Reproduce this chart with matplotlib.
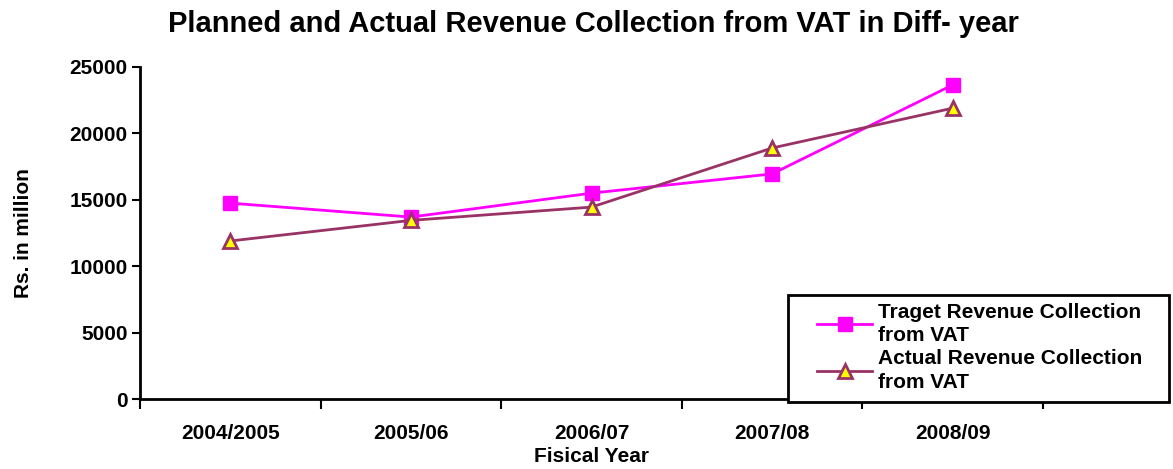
import numpy as np
import matplotlib.pyplot as plt
from matplotlib.ticker import FixedLocator
from matplotlib.patches import Rectangle

plt.rcParams['font.family'] = ['Liberation Sans', 'DejaVu Sans']
plt.rcParams['font.weight'] = 'bold'

years = ["2004/2005", "2005/06", "2006/07", "2007/08", "2008/09"]
target = [14750, 13700, 15500, 16950, 23650]
actual = [11900, 13450, 14450, 18900, 21900]

W, H = 1173, 469
fig = plt.figure(figsize=(W / 100, H / 100), dpi=100)
ax = fig.add_axes([140 / W, 70 / H, 903 / W, 332 / H])

x = np.arange(len(years))
ax.plot(x, target, color="#FF00FF", lw=2, marker="s", ms=10,
        mfc="#FF00FF", mec="#FF00FF",
        label="Traget Revenue Collection\nfrom VAT")
ax.plot(x, actual, color="#993366", lw=2, marker="^", ms=10,
        mfc="#FFFF00", mec="#993366", mew=2,
        label="Actual Revenue Collection\nfrom VAT")

ax.set_xlim(-0.5, len(years) - 0.5)
ax.set_ylim(0, 25000)
ax.set_yticks(np.arange(0, 25001, 5000))
ax.set_xticks(x)
ax.set_xticklabels(years)
ax.xaxis.set_minor_locator(FixedLocator(np.arange(-0.5, len(years), 1)))
ax.tick_params(axis="x", which="major", length=0, pad=18, labelsize=15)
ax.tick_params(axis="x", which="minor", length=7, width=1.5, direction="out")
ax.tick_params(axis="y", length=6, width=1.5, labelsize=15, pad=3)

for s in ["top", "right"]:
    ax.spines[s].set_visible(False)
for s in ["left", "bottom"]:
    ax.spines[s].set_linewidth(2)

ax.set_xlabel("Fisical Year", fontsize=15, fontweight="bold", labelpad=3)
ax.set_ylabel("Rs. in million", fontsize=15, fontweight="bold", labelpad=26)
fig.suptitle("Planned and Actual Revenue Collection from VAT in Diff- year",
             fontsize=21, fontweight="bold", x=0.5055, y=0.978)

# legend frame drawn separately, it sits over the axis line like the original
fig.patches.append(Rectangle((788 / W, 1 - 402 / H), 381 / W, 107 / H,
                             transform=fig.transFigure, fill=True,
                             facecolor="white", edgecolor="black", lw=2,
                             zorder=5))
leg = fig.legend(loc="upper left", bbox_to_anchor=(817 / W, 1 - 303 / H),
                 fontsize=15, frameon=False, handlelength=2.65,
                 labelspacing=0.2, borderpad=0, handletextpad=0.3,
                 borderaxespad=0)
leg.set_zorder(6)
for t in leg.get_texts():
    t.set_fontweight("bold")
    t.set_linespacing(1.28)

fig.savefig("out.png", dpi=100)
